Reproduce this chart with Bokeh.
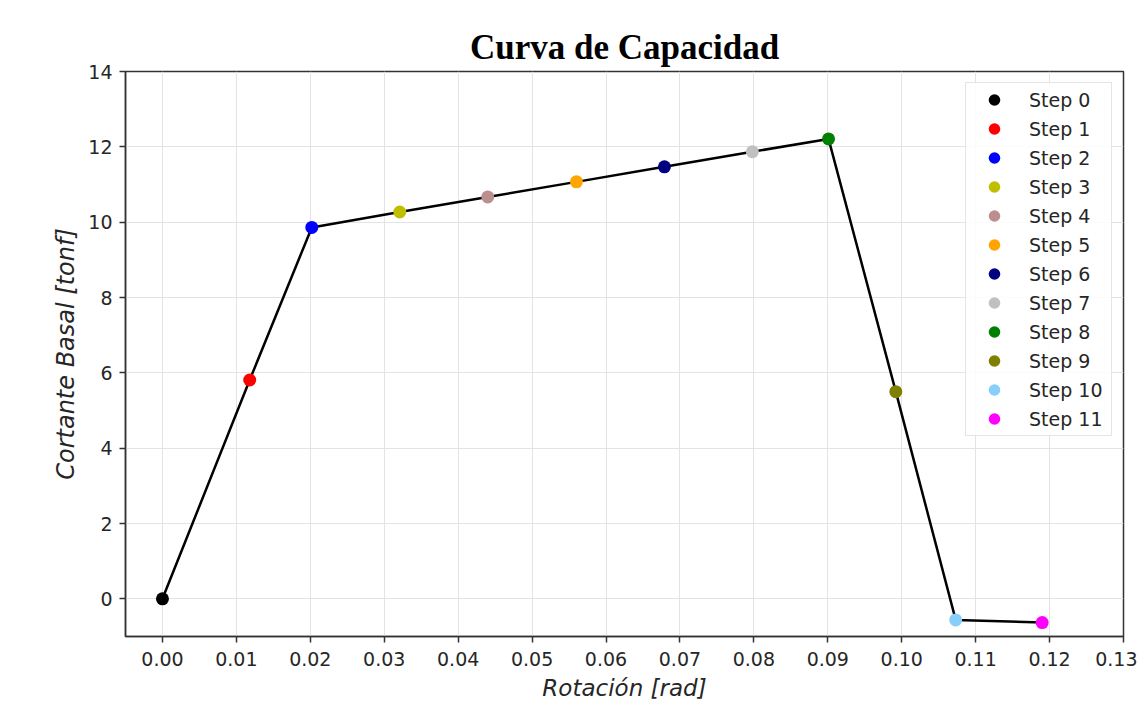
from bokeh.plotting import figure
from bokeh.models import FixedTicker, NumeralTickFormatter, Range1d, Legend, LegendItem, ColumnDataSource
from bokeh.embed import file_html
from bokeh.resources import INLINE

# Data
steps = ["Step 0", "Step 1", "Step 2", "Step 3", "Step 4", "Step 5",
         "Step 6", "Step 7", "Step 8", "Step 9", "Step 10", "Step 11"]
rotacion = [0.0, 0.0118, 0.0202, 0.0321, 0.0440, 0.0560,
            0.0679, 0.0798, 0.0901, 0.0992, 0.1073, 0.1190]
cortante = [0.0, 5.81, 9.86, 10.27, 10.67, 11.07,
            11.47, 11.87, 12.21, 5.50, -0.56, -0.63]
colores = ["#000000", "#ff0000", "#0000ff", "#bfbf00", "#bc8f8f", "#ffa500",
           "#000080", "#c0c0c0", "#008000", "#808000", "#87cefa", "#ff00ff"]
x_ticks = [0.00, 0.01, 0.02, 0.03, 0.04, 0.05, 0.06, 0.07, 0.08, 0.09, 0.10, 0.11, 0.12, 0.13]
y_ticks = [0, 2, 4, 6, 8, 10, 12, 14]

TXT = "#262626"

p = figure(width=1137, height=707, output_backend="svg", toolbar_location=None,
           x_range=Range1d(-0.005, 0.13), y_range=Range1d(-1, 14),
           min_border_left=125, min_border_right=14, min_border_top=71, min_border_bottom=71,
           background_fill_color="white", border_fill_color="white")

p.title.text = "Curva de Capacidad"
p.title.text_font = "Liberation Serif"
p.title.text_font_style = "bold"
p.title.text_font_size = "35px"
p.title.align = "center"
p.title.text_color = "black"
p.title.standoff = 10

p.outline_line_color = "#333333"
p.outline_line_width = 1.5

for ax in (p.xaxis[0], p.yaxis[0]):
    ax.axis_line_color = "#333333"
    ax.axis_line_width = 1.5
    ax.major_tick_line_color = "#333333"
    ax.major_tick_line_width = 1.5
    ax.major_tick_out = 6
    ax.major_tick_in = 0
    ax.minor_tick_line_color = None
    ax.major_label_text_font = "DejaVu Sans"
    ax.major_label_text_font_size = "19px"
    ax.major_label_text_color = TXT
    ax.axis_label_text_font = "DejaVu Sans"
    ax.axis_label_text_font_style = "italic"
    ax.axis_label_text_color = TXT

p.xaxis.ticker = FixedTicker(ticks=x_ticks)
p.xaxis.formatter = NumeralTickFormatter(format="0.00")
p.xaxis.axis_label = "Rotación [rad]"
p.xaxis.axis_label_text_font_size = "23px"
p.xaxis.major_label_standoff = 9
p.xaxis.axis_label_standoff = 6

p.yaxis.ticker = FixedTicker(ticks=y_ticks)
p.yaxis.axis_label = "Cortante Basal [tonf]"
p.yaxis.axis_label_text_font_size = "24px"
p.yaxis.major_label_standoff = 7
p.yaxis.axis_label_standoff = 5

p.xgrid.ticker = FixedTicker(ticks=x_ticks)
p.ygrid.ticker = FixedTicker(ticks=y_ticks)
p.grid.grid_line_color = "#e3e3e3"
p.grid.grid_line_width = 1

p.line(rotacion, cortante, line_color="black", line_width=2.5)

items = []
for i in range(len(steps)):
    src = ColumnDataSource(dict(x=[rotacion[i]], y=[cortante[i]]))
    r = p.scatter("x", "y", source=src, size=13, fill_color=colores[i],
                  line_color=colores[i], line_width=0)
    items.append(LegendItem(label=steps[i], renderers=[r]))

legend = Legend(items=items, location="top_right")
legend.glyph_width = 52
legend.glyph_height = 29
legend.label_height = 29
legend.spacing = 0
legend.padding = 2
legend.margin = 11
legend.label_standoff = 9
legend.label_width = 80
legend.label_text_font = "DejaVu Sans"
legend.label_text_font_size = "19px"
legend.label_text_color = TXT
legend.border_line_color = "#cccccc"
legend.border_line_width = 1
legend.background_fill_alpha = 0.85
p.add_layout(legend, "center")

open("out.html", "w").write(file_html(p, INLINE))
